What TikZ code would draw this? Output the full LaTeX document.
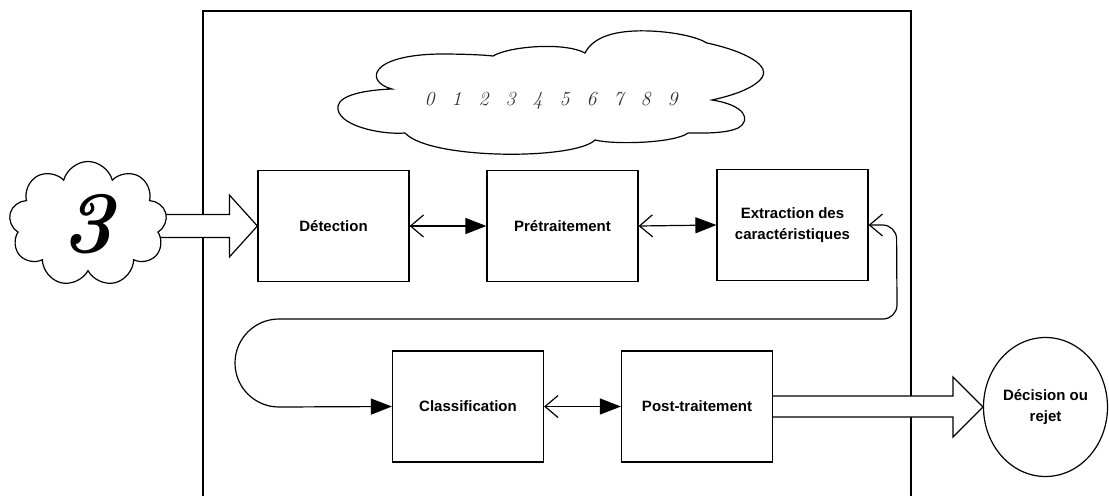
\documentclass[tikz,border=0pt]{standalone}
\usepackage{fontspec}
\newfontfamily\labelfont{Liberation Sans}
\usetikzlibrary{shapes.symbols,shapes.geometric,arrows.meta,calc}
\begin{document}
\begin{tikzpicture}[x=1pt,y=-1pt,
  stage/.style={draw, line width=1.2pt, fill=white, minimum width=151, minimum height=111,
    inner sep=0pt, font=\labelfont\bfseries\fontsize{15}{21}\selectfont, align=center},
  link/.style={line width=1.2pt,
    {Straight Barb[length=13pt,width=22pt]}-{Triangle[length=21pt,width=16pt]}},
  blk/.style={draw, line width=1.2pt, fill=white, line join=miter},
  puff/.style={cloud, draw, line width=1.2pt, fill=white, cloud ignores aspect, inner sep=0pt},
  outline/.style={draw, line width=1.2pt, fill=white},
]
\useasboundingbox (0,0) rectangle (1109,496);

% system frame (open at the bottom)
\draw[line width=1.8pt] (203,496) -- (203,11) -- (911,11) -- (911,496);

% processing stages
\node[stage] (det)  at (333.5,226) {Détection};
\node[stage] (pre)  at (562.5,226) {Prétraitement};
\node[stage] (ext)  at (792.5,225) {Extraction des\\caractéristiques};
\node[stage] (cls)  at (468,406.5) {Classification};
\node[stage] (post) at (697,406.5) {Post-traitement};
\node[ellipse, draw, line width=1.2pt, fill=white, minimum width=124, minimum height=139,
  inner sep=0pt, align=center, font=\labelfont\bfseries\fontsize{15}{21}\selectfont]
  (dec) at (1045.5,407) {Décision ou\\rejet};

% input block arrow
\coordinate (inTip) at (det.west);
\draw[blk] ($(inTip)+(-105,-11.5)$) -- ($(inTip)+(-28,-11.5)$) -- ($(inTip)+(-28,-31)$)
  -- (inTip) -- ($(inTip)+(-28,31)$) -- ($(inTip)+(-28,11.5)$) -- ($(inTip)+(-105,11.5)$);

% output block arrow
\coordinate (outTip) at (dec.west);
\draw[blk] (post.east |- 0,396) -- ($(outTip)+(-30,-11)$) -- ($(outTip)+(-30,-30)$)
  -- (outTip) -- ($(outTip)+(-30,30)$) -- ($(outTip)+(-30,10)$) -- (post.east |- 0,417);

% input sample
\node[puff, cloud puffs=9, minimum width=158, minimum height=125] (src) at (88,224) {};
\node[font=\fontsize{88}{88}\selectfont\bfseries\itshape] (three) at (src.center) {3};

% cloud of the ten digit classes
\path[outline] (392,89)
  .. controls (365,82) and (368,55) .. (440,54)
  .. controls (465,54) and (485,55) .. (493,56)
  .. controls (510,46) and (565,42) .. (585,53)
  .. controls (595,33) and (625,30) .. (650,31)
  .. controls (675,32) and (697,37) .. (707,43)
  .. controls (740,50) and (775,65) .. (760,80)
  .. controls (750,90) and (730,96) .. (712,100)
  .. controls (745,105) and (752,120) .. (738,128)
  .. controls (725,134) and (700,133) .. (688,133)
  .. controls (675,143) and (615,145) .. (595,140)
  .. controls (575,160) and (430,160) .. (405,133)
  .. controls (380,135) and (335,125) .. (338,106)
  .. controls (340,95) and (365,90) .. (392,89) -- cycle;
\node[font=\fontsize{20}{20}\selectfont\itshape, text=black!80] (digits) at (551,101)
  {0\hspace{17pt}1\hspace{17pt}2\hspace{17pt}3\hspace{17pt}4\hspace{17pt}5\hspace{17pt}6\hspace{17pt}7\hspace{17pt}8\hspace{17pt}9};

% links between stages
\draw[link] (det.east) -- (pre.west);
\draw[link] (pre.east) -- (ext.west);
\draw[link] (cls.east) -- (post.west);
\draw[link] (ext.east) -- ++(14,0) arc[start angle=-90, end angle=0, radius=14]
  -- (897,305) arc[start angle=0, end angle=90, radius=14]
  -- (279,319) arc[start angle=-90, end angle=-270, radius=44] -- (cls.west);
\end{tikzpicture}
\end{document}
